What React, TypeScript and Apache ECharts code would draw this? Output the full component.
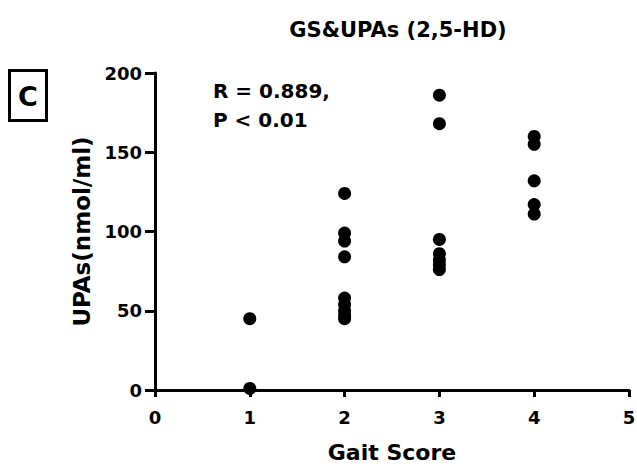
import React, { useEffect, useRef } from "react";
import * as echarts from "echarts";

const gaitScores = [1, 2, 3, 4];
const upasByScore: number[][] = [
  [45, 1],
  [124, 99, 94, 84, 58, 54, 50, 47, 45],
  [186, 168, 95, 86, 82, 79, 76],
  [160, 155, 132, 117, 111],
];
const xTicks = [0, 1, 2, 3, 4, 5];
const yTicks = [0, 50, 100, 150, 200];

const FONT = "'DejaVu Sans', sans-serif";

export default function App() {
  const ref = useRef<HTMLDivElement>(null);
  useEffect(() => {
    if (!ref.current) return;
    const chart = echarts.init(ref.current, undefined, { renderer: "svg" });
    const data: [number, number][] = [];
    gaitScores.forEach((g, i) => upasByScore[i].forEach((v) => data.push([g, v])));
    chart.setOption({
      animation: false,
      backgroundColor: "#ffffff",
      title: {
        text: "GS&UPAs (2,5-HD)",
        left: 393,
        top: 14,
        textAlign: "center",
        textStyle: { fontFamily: FONT, fontWeight: "bold", fontSize: 21, color: "#000" },
      },
      grid: { left: 155, right: 8, top: 73, bottom: 76, containLabel: false, outerBoundsMode: "none" },
      xAxis: {
        type: "value",
        min: xTicks[0],
        max: xTicks[xTicks.length - 1],
        interval: 1,
        name: "Gait Score",
        nameLocation: "middle",
        nameGap: 51,
        nameTextStyle: { fontFamily: FONT, fontWeight: "bold", fontSize: 22, color: "#000" },
        axisLine: { show: true, onZero: false, lineStyle: { color: "#000", width: 3 } },
        axisTick: { show: true, length: 7, inside: false, lineStyle: { color: "#000", width: 3 } },
        axisLabel: { margin: 18, fontFamily: FONT, fontWeight: "bold", fontSize: 18, color: "#000" },
        splitLine: { show: false },
      },
      yAxis: {
        type: "value",
        min: yTicks[0],
        max: yTicks[yTicks.length - 1],
        interval: 50,
        name: "UPAs(nmol/ml)",
        nameLocation: "middle",
        nameGap: 61,
        nameTextStyle: { fontFamily: FONT, fontWeight: "bold", fontSize: 23, color: "#000" },
        axisLine: { show: true, onZero: false, lineStyle: { color: "#000", width: 3 } },
        axisTick: { show: true, length: 10, inside: false, lineStyle: { color: "#000", width: 3 } },
        axisLabel: { margin: 13, fontFamily: FONT, fontWeight: "bold", fontSize: 18, color: "#000" },
        splitLine: { show: false },
      },
      graphic: [
        {
          type: "rect",
          shape: { x: 9.5, y: 70.5, width: 37, height: 50 },
          style: { fill: "#fff", stroke: "#000", lineWidth: 3 },
        },
        {
          type: "text",
          x: 28,
          y: 96,
          style: {
            text: "C",
            fontFamily: FONT,
            fontWeight: "bold",
            fontSize: 27,
            fill: "#000",
            align: "center",
            verticalAlign: "middle",
          },
        },
        {
          type: "text",
          x: 213,
          y: 76,
          style: {
            text: "R = 0.889,\nP < 0.01",
            fontFamily: FONT,
            fontWeight: "bold",
            fontSize: 20,
            lineHeight: 29,
            fill: "#000",
          },
        },
      ],
      series: [
        {
          type: "scatter",
          data,
          symbol: "circle",
          symbolSize: 13,
          itemStyle: { color: "#000", opacity: 1 },
          z: 10,
        },
      ],
    });
    return () => chart.dispose();
  }, []);
  return <div ref={ref} style={{ width: 637, height: 466, position: "absolute", left: 0, top: 0 }} />;
}
